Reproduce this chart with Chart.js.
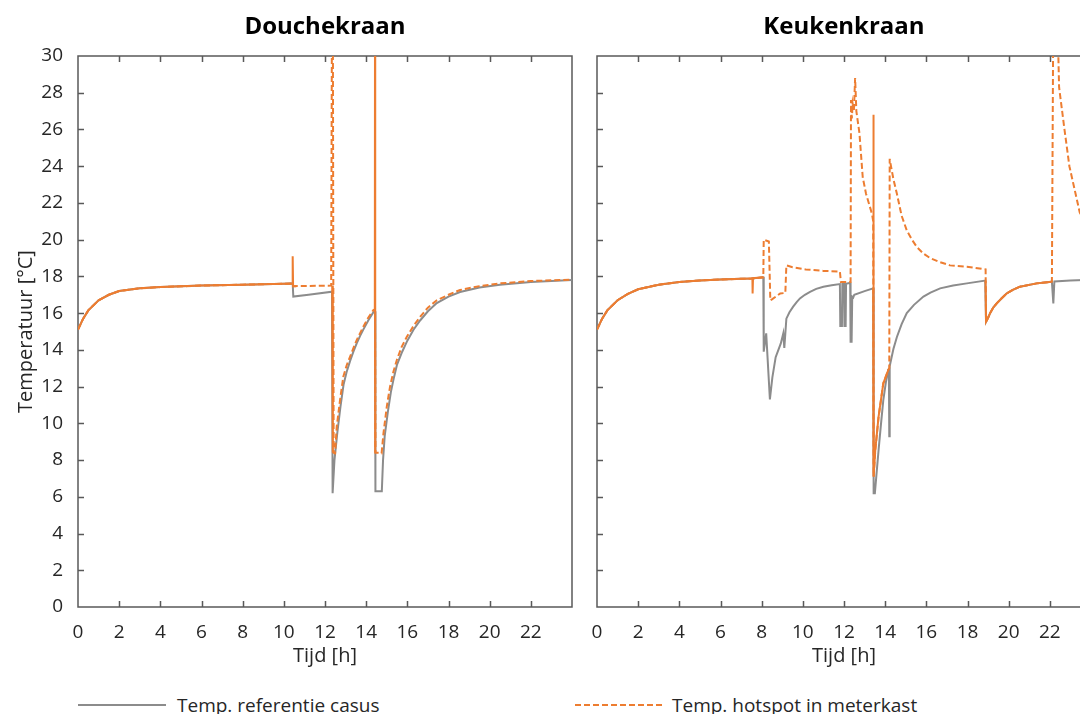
<!DOCTYPE html>
<html><head><meta charset="utf-8">
<script src="https://cdn.jsdelivr.net/npm/chart.js@4.4.0/dist/chart.umd.min.js"></script>
<style>
html,body{margin:0;padding:0;background:#fff;overflow:hidden;width:1080px;height:714px}
#wrap{position:relative;width:1080px;height:714px;overflow:hidden}
#c1{position:absolute;left:0;top:0}
#c2{position:absolute;left:580px;top:0}
.ptitle{position:absolute;top:10px;width:300px;margin-left:-150px;text-align:center;font-family:'Open Sans',sans-serif;font-weight:bold;font-size:24px;line-height:30px;color:#000}
.legtxt{position:absolute;top:692px;font-family:'Open Sans',sans-serif;font-size:19px;line-height:26px;color:#262626;white-space:nowrap}
.legsym{position:absolute;top:700px}
</style></head>
<body><div id="wrap">
<canvas id="c1" width="580" height="680"></canvas>
<canvas id="c2" width="520" height="680"></canvas>
<div class="ptitle" id="t1" style="left:325px"></div>
<div class="ptitle" id="t2" style="left:844px"></div>
<svg class="legsym" style="left:78px" width="90" height="10"><line x1="0" y1="5" x2="88" y2="5" stroke="#8c8c8c" stroke-width="2"/></svg>
<div class="legtxt" id="l1" style="left:177px"></div>
<svg class="legsym" style="left:575px" width="92" height="10"><line x1="0" y1="5" x2="90" y2="5" stroke="#ED7D31" stroke-width="2" stroke-dasharray="6 3"/></svg>
<div class="legtxt" id="l2" style="left:672px"></div>
</div>
<script>
// ---- Data (time in h, temperature in °C) ----
const panelTitles = ['Douchekraan', 'Keukenkraan'];
const seriesLabels = ['Temp. referentie casus', 'Temp. hotspot in meterkast', 'Temp. hotspot (overig)'];
const xTicks = [0,2,4,6,8,10,12,14,16,18,20,22];
const yTicks = [0,2,4,6,8,10,12,14,16,18,20,22,24,26,28,30];

// Douchekraan
const douche_ref_t = [0,0.25,0.5,1,1.5,2,3,4,6,8,10,10.43,10.46,11.2,12.34,12.37,12.46,12.6,12.75,12.9,13.05,13.22,13.38,13.54,13.7,13.86,14.1,14.35,14.43,14.45,14.76,14.82,14.9,15.05,15.2,15.35,15.5,15.75,16.0,16.3,16.62,17.0,17.43,18.0,18.56,19.5,20.5,22,24];
const douche_ref_v = [15.1,15.7,16.15,16.7,17.0,17.2,17.35,17.42,17.5,17.55,17.6,17.62,16.9,17.0,17.17,6.2,8.0,9.5,10.9,12.1,12.8,13.4,13.9,14.35,14.75,15.1,15.6,16.05,16.1,6.3,6.3,8.0,9.3,10.6,11.7,12.5,13.2,13.9,14.5,15.1,15.6,16.1,16.55,16.9,17.15,17.4,17.55,17.7,17.8];
const douche_meterkast_t = [0,0.25,0.5,1,1.5,2,3,4,6,8,10,10.43,10.46,12.3,12.34,12.38,12.42,12.49,12.57,12.73,12.89,13.05,13.22,13.38,13.54,13.7,13.86,14.1,14.35,14.43,14.45,14.66,14.75,14.84,15.0,15.16,15.32,15.49,15.72,15.97,16.3,16.62,17.0,17.43,18.0,18.56,19.5,20.5,22,24];
const douche_meterkast_v = [15.1,15.7,16.15,16.7,17.0,17.2,17.35,17.42,17.5,17.55,17.6,17.62,17.47,17.5,33,33,8.4,8.37,9.82,11.27,12.54,13.15,13.63,14.1,14.53,14.9,15.26,15.75,16.17,16.2,8.4,8.4,8.37,9.45,10.9,12.0,12.8,13.45,14.15,14.7,15.3,15.8,16.3,16.7,17.0,17.26,17.47,17.62,17.75,17.82];
const douche_overig_t = [0,0.25,0.5,1,1.5,2,3,4,6,8,10,10.42,10.43,10.45,10.6,11,12.35,12.38,13,14.42,14.43,14.44,15];
const douche_overig_v = [15.1,15.7,16.15,16.7,17.0,17.2,17.35,17.42,17.5,17.55,17.6,17.62,19.1,17.47,17.47,null,17.5,8.4,null,16.2,33,8.4,null];

// Keukenkraan
const keuken_ref_t = [0,0.25,0.5,1,1.5,2,3,4,5,6,7,7.5,8.08,8.1,8.22,8.4,8.52,8.68,8.93,9.05,9.1,9.15,9.2,9.35,9.53,9.7,9.86,10.1,10.35,10.65,11.0,11.4,11.8,11.82,11.9,11.92,12.0,12.02,12.08,12.1,12.3,12.32,12.37,12.4,12.45,12.5,13.0,13.42,13.44,13.5,13.68,13.8,13.91,14.03,14.15,14.18,14.2,14.22,14.25,14.4,14.57,14.8,15.05,15.4,15.86,16.2,16.67,17.3,17.97,18.86,18.9,19.0,19.1,19.25,19.42,19.65,19.9,20.2,20.55,21.36,22.1,22.17,22.22,23,24];
const keuken_ref_v = [15.1,15.7,16.15,16.7,17.05,17.3,17.55,17.7,17.78,17.83,17.87,17.88,17.95,13.9,14.9,11.3,12.5,13.6,14.35,14.9,14.1,14.9,15.7,16.05,16.35,16.6,16.8,17.0,17.16,17.32,17.44,17.52,17.58,15.3,15.3,17.6,17.6,15.3,15.3,17.6,17.65,14.44,14.44,16.9,16.85,17.0,17.2,17.35,6.2,6.2,8.55,10.0,11.27,12.2,12.9,13.0,9.3,13.1,13.27,14.05,14.7,15.4,16.0,16.45,16.9,17.12,17.35,17.5,17.62,17.77,15.53,15.75,16.0,16.3,16.53,16.8,17.07,17.27,17.44,17.62,17.71,16.53,17.72,17.78,17.82];
const keuken_meterkast_t = [0,0.25,0.5,1,1.5,2,3,4,5,6,7,7.5,8.08,8.1,8.35,8.42,8.5,8.9,9.15,9.2,9.5,10.14,11.0,11.8,11.85,12.3,12.32,12.34,12.38,12.42,12.48,12.54,12.6,12.75,12.91,13.07,13.36,13.42,13.44,13.52,13.68,13.91,14.15,14.2,14.22,14.25,14.4,14.57,14.8,15.05,15.3,15.54,15.85,16.18,16.6,17.15,17.97,18.88,18.9,19.0,19.1,19.25,19.42,19.65,19.9,20.2,20.55,21.36,22.1,22.17,22.35,22.45,22.7,22.95,23.25,23.45,24];
const keuken_meterkast_v = [15.1,15.7,16.15,16.7,17.05,17.3,17.55,17.7,17.78,17.83,17.87,17.88,17.95,20.0,19.9,16.7,16.75,17.07,17.1,18.6,18.5,18.38,18.3,18.26,17.7,17.7,17.7,27.6,26.6,27.4,27.0,28.8,27.0,25.8,23.4,22.5,21.4,21.0,7.1,8.55,10.36,12.18,12.9,13.0,24.4,24.2,23.3,22.5,21.3,20.5,20.0,19.6,19.25,19.0,18.8,18.6,18.53,18.38,15.53,15.75,16.0,16.3,16.53,16.8,17.07,17.27,17.44,17.62,17.71,33,33,28.3,26.1,24.0,22.5,21.5,20.0];
const keuken_overig_t = [0,0.25,0.5,1,1.5,2,3,4,5,6,7,7.5,7.55,7.56,7.58,8.08,8.1,13.42,13.43,13.44,13.52,13.68,13.91,14.15,14.2,14.21,18.88,18.9,19.0,19.1,19.25,19.42,19.65,19.9,20.2,20.55,21.36,22.1,22.17];
const keuken_overig_v = [15.1,15.7,16.15,16.7,17.05,17.3,17.55,17.7,17.78,17.83,17.87,17.88,17.88,17.07,17.9,17.95,null,17.35,26.8,7.1,8.55,10.36,12.18,12.9,13.0,null,17.77,15.53,15.75,16.0,16.3,16.53,16.8,17.07,17.27,17.44,17.62,17.71,null];

document.getElementById('t1').textContent = panelTitles[0];
document.getElementById('t2').textContent = panelTitles[1];
document.getElementById('l1').textContent = seriesLabels[0];
document.getElementById('l2').textContent = seriesLabels[1];

// ---- Styling ----
const GRAY = '#8c8c8c', ORANGE = '#ED7D31', AXIS = '#595959', TXT = '#262626';
const FONT = "'Open Sans', sans-serif";

function pts(t, v) { return t.map((x, i) => ({x: x, y: v[i]})); }

const frame = {
  id: 'frame',
  beforeDatasetsDraw(chart) {
    const {ctx, chartArea: a, scales: {x, y}} = chart;
    ctx.save();
    ctx.strokeStyle = AXIS; ctx.lineWidth = 1.5;
    ctx.strokeRect(a.left, a.top, a.right - a.left, a.bottom - a.top);
    ctx.beginPath();
    x.ticks.forEach(t => {
      if (t.value <= x.min || t.value >= x.max) return;
      const px = Math.round(x.getPixelForValue(t.value)) + 0.5;
      ctx.moveTo(px, a.bottom); ctx.lineTo(px, a.bottom - 6);
      ctx.moveTo(px, a.top); ctx.lineTo(px, a.top + 6);
    });
    y.ticks.forEach(t => {
      if (t.value <= y.min || t.value >= y.max) return;
      const py = Math.round(y.getPixelForValue(t.value)) + 0.5;
      ctx.moveTo(a.left, py); ctx.lineTo(a.left + 6, py);
    });
    ctx.stroke();
    ctx.restore();
  }
};

function makeChart(id, ref, mk, ov, showY, yWidth, padRight) {
  return new Chart(document.getElementById(id), {
    type: 'line',
    data: {
      datasets: [
        {label: seriesLabels[1], data: mk, borderColor: ORANGE, borderWidth: 2, borderDash: [6, 3], order: 0},
        {label: seriesLabels[2], data: ov, borderColor: ORANGE, borderWidth: 2, order: 1},
        {label: seriesLabels[0], data: ref, borderColor: GRAY, borderWidth: 2, order: 2}
      ]
    },
    options: {
      responsive: false, animation: false, parsing: {xAxisKey: 'x', yAxisKey: 'y'},
      spanGaps: false,
      elements: {point: {radius: 0}, line: {tension: 0, borderCapStyle: 'butt', borderJoinStyle: 'miter'}},
      layout: {padding: {top: 56, right: padRight, bottom: 0, left: 0}},
      plugins: {legend: {display: false}, tooltip: {enabled: false}, title: {display: false}},
      scales: {
        x: {
          type: 'linear', min: 0, max: 24,
          grid: {display: false}, border: {display: false},
          afterBuildTicks: s => { s.ticks = xTicks.concat([24]).map(v => ({value: v})); },
          ticks: {color: TXT, font: {family: FONT, size: 19}, padding: 6, maxRotation: 0, autoSkip: false,
                  callback: v => (xTicks.includes(v) ? String(v) : '')},
          title: {display: true, text: 'Tijd [h]', color: TXT, font: {family: FONT, size: 20}, padding: {top: 0, bottom: 12}},
          afterFit: s => { s.height = 73; }
        },
        y: {
          type: 'linear', min: 0, max: 30,
          grid: {display: false}, border: {display: false},
          afterBuildTicks: s => { s.ticks = yTicks.map(v => ({value: v})); },
          ticks: {display: showY, color: TXT, font: {family: FONT, size: 19}, padding: 7, autoSkip: false},
          title: {display: showY, text: 'Temperatuur [°C]', color: TXT, font: {family: FONT, size: 20}, padding: {top: 14, bottom: 0}},
          afterFit: s => { s.width = yWidth; }
        }
      }
    },
    plugins: [frame]
  });
}

makeChart('c1', pts(douche_ref_t, douche_ref_v), pts(douche_meterkast_t, douche_meterkast_v), pts(douche_overig_t, douche_overig_v), true, 78, 8);
makeChart('c2', pts(keuken_ref_t, keuken_ref_v), pts(keuken_meterkast_t, keuken_meterkast_v), pts(keuken_overig_t, keuken_overig_v), false, 17, 9);
</script>
</body></html>
